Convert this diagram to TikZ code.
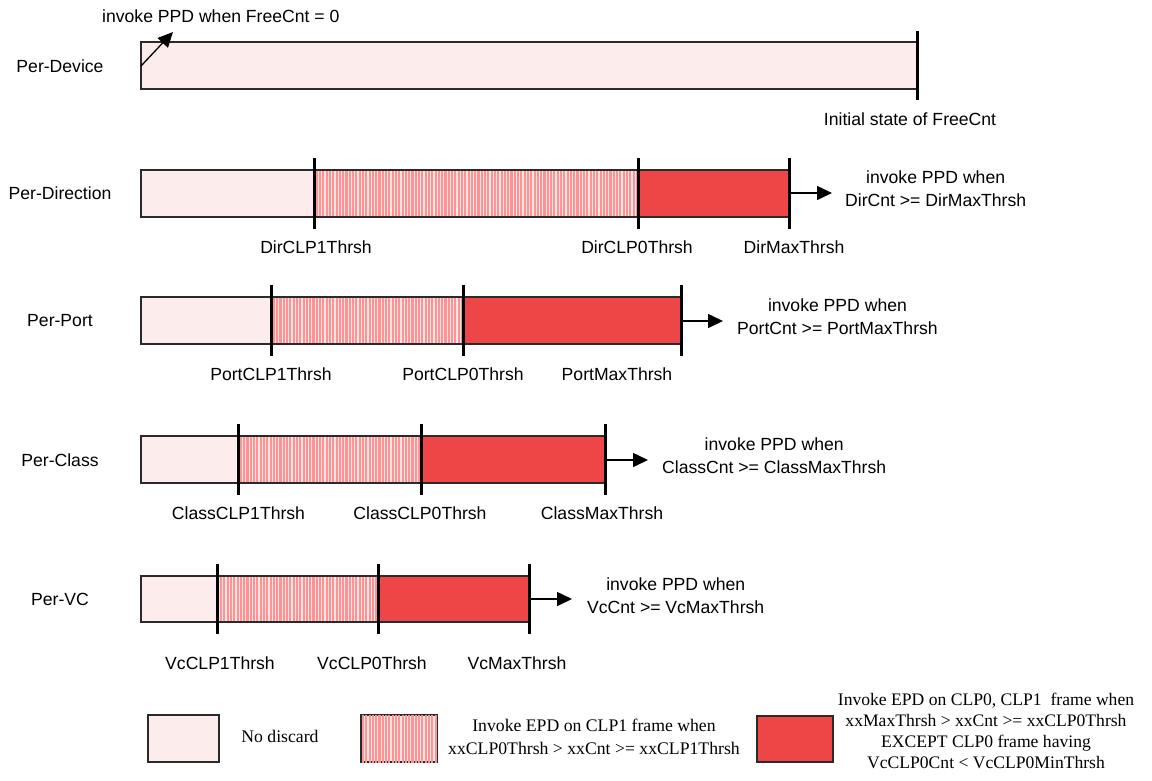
\documentclass[tikz,border=0pt]{standalone}
\usepackage{fontspec}
\setmainfont{Liberation Serif}
\setsansfont{Liberation Sans}
\usetikzlibrary{arrows.meta,patterns.meta}
\definecolor{nodisc}{HTML}{FDECEC}
\definecolor{stripebase}{HTML}{FFE6E6}
\definecolor{stripe}{HTML}{FF9393}
\definecolor{clpzero}{HTML}{EE4646}
\definecolor{frame}{HTML}{2A2A2A}
\tikzset{
  lbl/.style={font=\sffamily\fontsize{17.6}{23}\selectfont, inner sep=0pt, align=center},
  legsingle/.style={font=\fontsize{17.7}{23.5}\selectfont, inner sep=0pt, align=center},
  legmulti/.style={font=\fontsize{17.6}{21}\selectfont, inner sep=0pt, align=center},
  zoneA/.style={fill=nodisc},
  zoneB/.style={fill=stripebase, postaction={pattern={Lines[angle=90,distance=3.3pt,line width=2.1pt]}, pattern color=stripe}},
  zoneC/.style={fill=clpzero},
  barframe/.style={draw=frame, line width=1.8pt},
  legframe/.style={draw=frame, line width=1.6pt},
  thrtick/.style={draw=black, line width=3pt},
  ppd/.style={-{Triangle[length=15pt,width=14pt]}, line width=1.6pt},
}
% one threshold bar: #1 name, #2 top, #3 bottom, #4/#5/#6 thresholds CLP1/CLP0/Max
\newcommand{\thrbar}[6]{%
  \fill[zoneA] (141,#2) rectangle (#4,#3);
  \fill[zoneB] (#4,#2) rectangle (#5,#3);
  \fill[zoneC] (#5,#2) rectangle (#6,#3);
  \draw[barframe] (141,#2) rectangle (#6,#3);
  \coordinate (#1-t1a) at (#4,#2-12); \coordinate (#1-t1b) at (#4,#3+12);
  \coordinate (#1-t2a) at (#5,#2-12); \coordinate (#1-t2b) at (#5,#3+12);
  \coordinate (#1-t3a) at (#6,#2-12); \coordinate (#1-t3b) at (#6,#3+12);
  \draw[thrtick] (#1-t1a) -- (#1-t1b);
  \draw[thrtick] (#1-t2a) -- (#1-t2b);
  \draw[thrtick] (#1-t3a) -- (#1-t3b);
}
\begin{document}
\begin{tikzpicture}[x=1pt,y=-1pt]
\useasboundingbox (0,0) rectangle (1152,780);

% per-device bar
\fill[zoneA] (141,42) rectangle (917,89);
\draw[barframe] (141,42) rectangle (917,89);
\coordinate (dev-ta) at (917,31);
\coordinate (dev-tb) at (917,100);
\draw[thrtick] (dev-ta) -- (dev-tb);
\node[lbl] (devname) at (60,66) {Per-Device};
\node[lbl, anchor=west] (devppd) at (102,16) {invoke PPD when FreeCnt = 0};
\coordinate (dev-in) at (141,66);
\coordinate (dev-tip) at (173,32);
\draw[ppd, line width=1.3pt] (dev-in) -- (dev-tip);
\node[lbl] (devinit) at (910,119) {Initial state of FreeCnt};

% per-direction bar
\thrbar{dir}{170}{217}{314}{638}{789}
\node[lbl] (dirname) at (60,193.5) {Per-Direction};
\node[lbl, anchor=west] (dirppd) at (845,189) {invoke PPD when\\DirCnt >= DirMaxThrsh};
\coordinate (dir-end) at (789,193);
\coordinate (dir-tip) at (832,193);
\draw[ppd] (dir-end) -- (dir-tip);
\node[lbl] (dir1) at (316,247) {DirCLP1Thrsh};
\node[lbl] (dir0) at (637,247) {DirCLP0Thrsh};
\node[lbl] (dirm) at (794,247) {DirMaxThrsh};

% per-port bar
\thrbar{port}{297}{344}{271}{463}{681}
\node[lbl] (portname) at (60,321) {Per-Port};
\node[lbl, anchor=west] (portppd) at (737,317) {invoke PPD when\\PortCnt >= PortMaxThrsh};
\coordinate (port-end) at (681,321);
\coordinate (port-tip) at (723,321);
\draw[ppd] (port-end) -- (port-tip);
\node[lbl] (port1) at (271,374) {PortCLP1Thrsh};
\node[lbl] (port0) at (463,374) {PortCLP0Thrsh};
\node[lbl] (portm) at (617,374) {PortMaxThrsh};

% per-class bar
\thrbar{cls}{436}{483}{238}{421}{605}
\node[lbl] (clsname) at (60,460) {Per-Class};
\node[lbl, anchor=west] (clsppd) at (662,456) {invoke PPD when\\ClassCnt >= ClassMaxThrsh};
\coordinate (cls-end) at (605,460);
\coordinate (cls-tip) at (648,460);
\draw[ppd] (cls-end) -- (cls-tip);
\node[lbl] (cls1) at (238.5,513) {ClassCLP1Thrsh};
\node[lbl] (cls0) at (420,513) {ClassCLP0Thrsh};
\node[lbl] (clsm) at (602,513) {ClassMaxThrsh};

% per-vc bar
\thrbar{vc}{576}{622}{217}{378}{529}
\node[lbl] (vcname) at (60,599) {Per-VC};
\node[lbl, anchor=west] (vcppd) at (587,595.5) {invoke PPD when\\VcCnt >= VcMaxThrsh};
\coordinate (vc-end) at (529,599);
\coordinate (vc-tip) at (572,599);
\draw[ppd] (vc-end) -- (vc-tip);
\node[lbl] (vc1) at (220,663.5) {VcCLP1Thrsh};
\node[lbl] (vc0) at (372,663.5) {VcCLP0Thrsh};
\node[lbl] (vcm) at (517,663.5) {VcMaxThrsh};

% legend
\draw[zoneA, legframe] (148,715) rectangle (219,762);
\node[legsingle] (legA) at (280,736) {No discard};
\draw[zoneB, legframe] (361,715) rectangle (437,762);
\node[legsingle] (legB) at (594,737) {Invoke EPD on CLP1 frame when\\xxCLP0Thrsh > xxCnt >= xxCLP1Thrsh};
\draw[zoneC, legframe] (757,716) rectangle (833,762);
\node[legmulti] (legC) at (986,730.5) {Invoke EPD on CLP0, CLP1\ \ frame when\\xxMaxThrsh > xxCnt >= xxCLP0Thrsh\\EXCEPT CLP0 frame having\\VcCLP0Cnt < VcCLP0MinThrsh};
\end{tikzpicture}
\end{document}
